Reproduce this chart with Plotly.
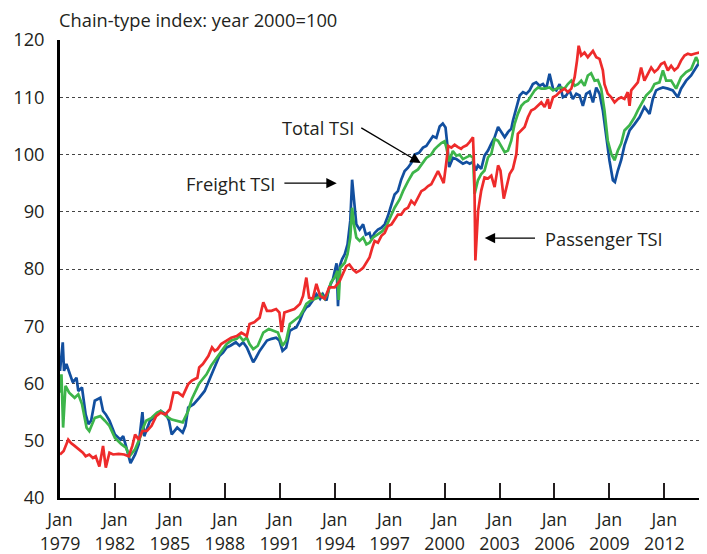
import plotly.graph_objects as go

# ---- data (decimal year, index value) ----
freight_t = [1979.0, 1979.08, 1979.15, 1979.22, 1979.35, 1979.5, 1979.7, 1979.9, 1980.0, 1980.2, 1980.4, 1980.55, 1980.7, 1980.9,
             1981.2, 1981.35, 1981.5, 1981.7, 1982.0, 1982.3, 1982.45, 1982.6, 1982.85, 1983.1, 1983.3, 1983.5, 1983.6, 1983.9,
             1984.2, 1984.5, 1984.8, 1984.95, 1985.1, 1985.4, 1985.7, 1985.85, 1986.0, 1986.3, 1986.6, 1986.9, 1987.2, 1987.45,
             1987.7, 1987.9, 1988.1, 1988.3, 1988.45, 1988.6, 1988.8, 1989.0, 1989.2, 1989.35, 1989.55, 1989.7, 1989.9, 1990.1,
             1990.3, 1990.55, 1990.8, 1990.98, 1991.15, 1991.35, 1991.55, 1991.7, 1991.9, 1992.1, 1992.27, 1992.45, 1992.6, 1992.8,
             1993.0, 1993.2, 1993.35, 1993.55, 1993.7, 1993.9, 1994.1, 1994.18, 1994.27, 1994.4, 1994.55, 1994.7, 1994.85, 1994.95,
             1995.05, 1995.18, 1995.36, 1995.55, 1995.7, 1995.9, 1996.0, 1996.18, 1996.36, 1996.55, 1996.73, 1996.9, 1997.1, 1997.27,
             1997.45, 1997.63, 1997.82, 1998.0, 1998.18, 1998.36, 1998.6, 1998.82, 1999.0, 1999.18, 1999.36, 1999.55, 1999.73, 1999.9,
             2000.05, 2000.15, 2000.25, 2000.45, 2000.64, 2000.82, 2001.0, 2001.2, 2001.37, 2001.55, 2001.7, 2001.82, 2002.0, 2002.18,
             2002.37, 2002.55, 2002.73, 2002.92, 2003.1, 2003.28, 2003.46, 2003.64, 2003.73, 2003.92, 2004.1, 2004.28, 2004.46, 2004.64,
             2004.82, 2005.0, 2005.19, 2005.37, 2005.55, 2005.73, 2005.92, 2006.1, 2006.28, 2006.46, 2006.64, 2006.82, 2007.0, 2007.19,
             2007.37, 2007.55, 2007.73, 2007.92, 2008.1, 2008.28, 2008.46, 2008.64, 2008.82, 2009.0, 2009.19, 2009.3, 2009.46, 2009.64,
             2009.82, 2010.1, 2010.37, 2010.64, 2010.91, 2011.19, 2011.37, 2011.55, 2011.73, 2011.92, 2012.19, 2012.46, 2012.73, 2012.91,
             2013.19, 2013.46, 2013.73, 2013.91]
freight_v = [62.2, 64.5, 67.2, 62.2, 63.4, 62.0, 60.2, 61.0, 58.7, 59.3, 54.6, 52.9, 53.5, 57.0,
             57.5, 55.2, 54.6, 53.5, 51.1, 50.2, 50.8, 49.1, 46.1, 47.6, 49.4, 55.0, 50.8, 53.4,
             54.3, 55.2, 54.6, 53.5, 51.1, 52.3, 51.4, 52.6, 55.8, 56.4, 57.5, 58.7, 61.0, 62.8,
             64.8, 65.4, 66.3, 66.6, 66.9, 67.2, 66.6, 67.2, 66.3, 65.1, 63.7, 64.5, 65.7, 66.6,
             67.5, 67.8, 68.0, 67.5, 65.7, 66.3, 69.2, 69.5, 69.8, 71.0, 72.4, 73.3, 73.6, 74.5,
             75.6, 74.8, 75.6, 74.5, 76.8, 78.2, 81.0, 73.5, 80.5, 81.7, 82.6, 84.3, 88.4, 95.6,
             91.9, 87.8, 86.9, 87.8, 86.0, 86.3, 85.2, 86.3, 86.9, 87.2, 87.8, 89.2, 91.3, 93.0,
             93.6, 95.6, 97.1, 97.7, 98.5, 100.0, 100.3, 101.2, 101.5, 102.3, 103.2, 102.9, 104.9, 105.4,
             104.7, 101.7, 97.8, 99.4, 99.2, 98.8, 98.4, 98.7, 98.4, 98.7, 97.2, 98.1, 97.5, 99.8,
             100.7, 101.9, 103.0, 104.8, 103.9, 103.0, 103.9, 104.5, 105.9, 108.3, 110.3, 110.9, 110.6, 111.2,
             112.3, 112.6, 112.0, 112.3, 111.5, 114.1, 111.5, 111.2, 112.3, 110.0, 110.3, 111.2, 109.7, 110.6,
             110.3, 108.5, 110.6, 111.0, 109.1, 111.7, 110.6, 107.7, 103.0, 99.0, 95.5, 95.2, 97.2, 99.0,
             101.6, 104.2, 105.3, 106.5, 108.3, 107.1, 109.7, 111.2, 111.5, 111.7, 111.5, 111.2, 110.0, 111.5,
             112.9, 113.8, 115.2, 116.1]

total_t = [1979.0, 1979.08, 1979.17, 1979.3, 1979.5, 1979.8, 1980.0, 1980.2, 1980.45, 1980.6, 1980.9, 1981.2, 1981.45, 1981.7,
           1982.0, 1982.35, 1982.6, 1982.8, 1983.1, 1983.4, 1983.55, 1983.7, 1984.0, 1984.3, 1984.5, 1984.8, 1985.1, 1985.4,
           1985.7, 1986.0, 1986.2, 1986.6, 1987.0, 1987.25, 1987.55, 1987.8, 1988.1, 1988.35, 1988.65, 1988.8, 1989.0, 1989.2,
           1989.35, 1989.55, 1989.8, 1990.1, 1990.4, 1990.65, 1990.9, 1991.15, 1991.35, 1991.55, 1991.8, 1992.1, 1992.27, 1992.45,
           1992.7, 1992.9, 1993.1, 1993.25, 1993.45, 1993.6, 1993.8, 1994.0, 1994.15, 1994.22, 1994.3, 1994.55, 1994.7, 1994.85,
           1994.95, 1995.05, 1995.18, 1995.36, 1995.55, 1995.73, 1995.9, 1996.1, 1996.36, 1996.6, 1996.82, 1997.1, 1997.27, 1997.55,
           1997.73, 1998.0, 1998.27, 1998.55, 1998.82, 1999.0, 1999.27, 1999.45, 1999.64, 1999.82, 2000.0, 2000.1, 2000.25, 2000.45,
           2000.64, 2000.82, 2001.0, 2001.37, 2001.55, 2001.64, 2001.82, 2002.0, 2002.18, 2002.37, 2002.55, 2002.73, 2002.92, 2003.1,
           2003.28, 2003.46, 2003.64, 2003.82, 2004.0, 2004.19, 2004.37, 2004.55, 2004.73, 2004.92, 2005.1, 2005.28, 2005.46, 2005.73,
           2005.92, 2006.1, 2006.37, 2006.55, 2006.73, 2006.92, 2007.1, 2007.28, 2007.46, 2007.64, 2007.82, 2008.0, 2008.19, 2008.37,
           2008.55, 2008.73, 2008.91, 2009.1, 2009.28, 2009.46, 2009.64, 2009.82, 2010.1, 2010.37, 2010.55, 2010.82, 2011.0, 2011.28,
           2011.46, 2011.73, 2011.92, 2012.1, 2012.37, 2012.64, 2012.91, 2013.19, 2013.46, 2013.73, 2013.91]
total_v = [58.4, 61.6, 52.3, 59.6, 58.4, 57.5, 58.1, 56.4, 52.3, 51.7, 54.0, 54.3, 53.5, 52.6,
           50.5, 49.4, 48.8, 47.3, 48.5, 50.8, 52.3, 53.5, 54.0, 54.9, 55.2, 54.3, 53.7, 53.5,
           53.2, 55.2, 57.3, 60.0, 61.6, 63.1, 64.5, 65.7, 66.9, 67.5, 67.8, 68.3, 67.5, 68.0,
           66.9, 66.0, 66.6, 68.9, 69.5, 69.2, 68.9, 66.6, 67.5, 70.4, 71.0, 71.8, 72.7, 73.9,
           74.5, 74.8, 75.0, 75.6, 74.8, 75.6, 77.7, 78.5, 79.7, 74.6, 80.2, 81.1, 82.6, 85.5,
           90.7, 87.8, 85.5, 84.9, 85.5, 84.3, 84.6, 85.5, 86.0, 86.6, 87.5, 89.5, 90.7, 92.2,
           93.6, 95.3, 96.8, 97.4, 98.5, 99.4, 100.0, 100.9, 101.5, 102.0, 102.3, 101.2, 98.8, 100.6,
           99.8, 100.0, 99.2, 99.8, 99.5, 93.1, 95.5, 96.6, 97.2, 99.5, 100.1, 102.7, 102.4, 101.3,
           100.4, 100.7, 102.4, 105.3, 107.1, 108.5, 109.1, 109.4, 110.3, 111.2, 111.7, 111.5, 111.5, 111.7,
           111.2, 111.5, 111.7, 111.5, 112.3, 112.9, 112.0, 112.3, 112.9, 112.0, 113.8, 114.2, 112.9, 113.0,
           111.5, 107.7, 102.4, 100.1, 99.0, 100.7, 101.9, 104.2, 105.1, 106.5, 107.7, 109.4, 110.3, 111.2,
           112.3, 112.6, 114.7, 112.9, 112.9, 111.5, 113.5, 114.4, 114.9, 117.0, 115.8]

passenger_t = [1979.0, 1979.2, 1979.45, 1979.6, 1979.8, 1980.05, 1980.25, 1980.4, 1980.6, 1980.8, 1980.95, 1981.15, 1981.35, 1981.5,
               1981.7, 1981.9, 1982.2, 1982.5, 1982.75, 1982.95, 1983.1, 1983.3, 1983.5, 1983.75, 1984.0, 1984.25, 1984.5, 1984.75,
               1985.0, 1985.2, 1985.45, 1985.7, 1986.0, 1986.2, 1986.5, 1986.6, 1986.8, 1987.1, 1987.3, 1987.45, 1987.6, 1987.8,
               1988.1, 1988.35, 1988.65, 1988.9, 1989.2, 1989.35, 1989.6, 1989.9, 1990.1, 1990.3, 1990.55, 1990.8, 1990.98, 1991.1,
               1991.25, 1991.55, 1991.8, 1992.1, 1992.27, 1992.45, 1992.6, 1992.8, 1993.0, 1993.2, 1993.45, 1993.7, 1994.0, 1994.27,
               1994.45, 1994.63, 1994.8, 1995.0, 1995.18, 1995.36, 1995.55, 1995.73, 1995.9, 1996.05, 1996.18, 1996.36, 1996.55, 1996.73,
               1996.9, 1997.1, 1997.27, 1997.45, 1997.63, 1997.82, 1998.0, 1998.18, 1998.36, 1998.55, 1998.73, 1998.9, 1999.1, 1999.27,
               1999.45, 1999.64, 1999.82, 1999.95, 2000.1, 2000.2, 2000.37, 2000.55, 2000.73, 2000.9, 2001.0, 2001.2, 2001.37, 2001.55,
               2001.62, 2001.68, 2001.83, 2002.0, 2002.18, 2002.37, 2002.55, 2002.73, 2002.92, 2003.05, 2003.23, 2003.37, 2003.55, 2003.73,
               2003.92, 2004.0, 2004.19, 2004.37, 2004.55, 2004.73, 2004.92, 2005.1, 2005.28, 2005.46, 2005.64, 2005.73, 2005.92, 2006.1,
               2006.28, 2006.55, 2006.73, 2006.92, 2007.1, 2007.23, 2007.32, 2007.46, 2007.64, 2007.82, 2008.0, 2008.1, 2008.28, 2008.46,
               2008.64, 2008.73, 2008.91, 2009.1, 2009.28, 2009.46, 2009.64, 2009.82, 2010.0, 2010.1, 2010.19, 2010.37, 2010.55, 2010.73,
               2010.91, 2011.1, 2011.28, 2011.46, 2011.64, 2011.82, 2012.0, 2012.19, 2012.37, 2012.55, 2012.73, 2012.91, 2013.1, 2013.28,
               2013.46, 2013.64, 2013.91]
passenger_v = [47.6, 48.2, 50.2, 49.6, 49.1, 48.5, 47.9, 47.3, 47.6, 47.0, 47.3, 45.5, 49.1, 45.3,
               47.9, 47.6, 47.7, 47.6, 47.3, 49.1, 51.1, 50.2, 51.7, 51.7, 52.6, 54.3, 54.9, 54.6,
               55.5, 58.4, 58.4, 57.8, 59.9, 60.5, 61.0, 62.8, 63.4, 64.8, 66.3, 65.7, 66.0, 66.9,
               67.5, 68.0, 68.3, 68.9, 68.3, 70.4, 70.7, 71.5, 74.2, 72.7, 72.7, 73.0, 72.4, 69.0,
               72.4, 72.7, 73.0, 73.9, 75.3, 78.5, 75.0, 74.8, 77.4, 75.3, 74.8, 76.8, 76.8, 77.9,
               79.1, 80.5, 80.8, 79.9, 79.4, 79.7, 80.2, 81.1, 82.0, 83.7, 84.9, 84.6, 85.8, 86.3,
               87.5, 87.8, 88.7, 89.5, 89.5, 90.4, 90.7, 91.9, 91.3, 92.4, 93.6, 93.9, 94.5, 94.8,
               95.9, 97.1, 95.9, 95.0, 98.8, 101.5, 101.2, 101.7, 101.3, 101.0, 101.3, 101.6, 102.2, 103.0,
               97.2, 81.5, 90.2, 93.7, 96.0, 95.8, 96.3, 94.3, 98.1, 97.2, 92.3, 94.3, 96.6, 97.5,
               100.1, 103.6, 104.2, 104.8, 106.5, 107.7, 108.0, 108.5, 109.1, 108.3, 109.7, 108.0, 110.0, 110.3,
               110.9, 111.5, 110.9, 111.5, 113.5, 116.4, 119.0, 117.3, 117.8, 117.0, 117.6, 118.1, 117.0, 116.7,
               114.7, 112.3, 110.6, 110.0, 109.1, 109.7, 110.0, 109.7, 110.9, 108.5, 111.2, 112.0, 112.6, 115.2,
               112.9, 114.1, 115.2, 114.4, 114.9, 115.8, 116.1, 114.7, 115.5, 114.7, 115.2, 116.4, 117.3, 117.6,
               117.4, 117.6, 117.8]

tick_years = [1979, 1982, 1985, 1988, 1991, 1994, 1997, 2000, 2003, 2006, 2009, 2012]
tick_text = ["Jan<br>%d" % y for y in tick_years]
y_ticks = [40, 50, 60, 70, 80, 90, 100, 110, 120]

FONT = "Open Sans"
FS = 18.3
XFS = 17.8
BLUE = "#124F9F"
GREEN = "#3DB54A"
RED = "#EE2B2B"
TXT = "#231F20"

fig = go.Figure()
for t, v, c, n in [(freight_t, freight_v, BLUE, "Freight TSI"),
                   (total_t, total_v, GREEN, "Total TSI"),
                   (passenger_t, passenger_v, RED, "Passenger TSI")]:
    fig.add_trace(go.Scatter(x=t, y=v, mode="lines", name=n,
                             line=dict(color=c, width=2.7), hoverinfo="skip"))

# the page body has an 8px default margin, so the figure is offset by 8px
fig.update_layout(
    width=707, height=554,
    margin=dict(l=52, r=14, t=32, b=64),
    paper_bgcolor="white", plot_bgcolor="white",
    showlegend=False,
    font=dict(family=FONT, size=FS, color=TXT),
)
fig.update_xaxes(
    range=[1979, 2014], tickvals=tick_years, ticktext=tick_text,
    showgrid=False, zeroline=False, automargin=False,
    showline=True, linecolor="black", linewidth=2,
    ticks="inside", ticklen=15, tickwidth=1.5, tickcolor=TXT,
    ticklabelstandoff=5,
    tickfont=dict(family=FONT, size=XFS, color=TXT),
)
fig.update_yaxes(
    range=[40, 120], tickvals=y_ticks,
    showgrid=True, gridcolor="#444444", gridwidth=1, griddash="dot",
    zeroline=False, automargin=False,
    showline=True, linecolor="black", linewidth=2.5,
    ticks="", ticklabelstandoff=9,
    tickfont=dict(family=FONT, size=FS, color=TXT),
)

# title
fig.add_annotation(text="Chain-type index: year 2000=100", xref="paper", yref="paper",
                   x=0, y=1, xanchor="left", yanchor="bottom", yshift=6, xshift=-3, showarrow=False,
                   font=dict(family=FONT, size=FS, color=TXT))

# labels
fig.add_annotation(text="Freight TSI", x=1990.85, y=95.0, xanchor="right", yanchor="middle",
                   showarrow=False, font=dict(family=FONT, size=FS, color=TXT))
fig.add_annotation(text="Total TSI", x=1991.0, y=104.7, xanchor="left", yanchor="middle",
                   showarrow=False, font=dict(family=FONT, size=FS, color=TXT))
fig.add_annotation(text="Passenger TSI", x=2005.35, y=85.4, xanchor="left", yanchor="middle",
                   showarrow=False, font=dict(family=FONT, size=FS, color=TXT))

# arrows
for (tx, ty, hx, hy) in [(1991.17, 95.0, 1994.11, 95.0),
                         (1995.37, 104.8, 1998.7, 98.5),
                         (2005.02, 85.4, 2002.19, 85.4)]:
    fig.add_annotation(text="", x=hx, y=hy, ax=tx, ay=ty, axref="x", ayref="y",
                       xref="x", yref="y", showarrow=True, arrowhead=2, arrowsize=1.6,
                       arrowwidth=1.3, arrowcolor="black")

fig.write_html("out.html")
